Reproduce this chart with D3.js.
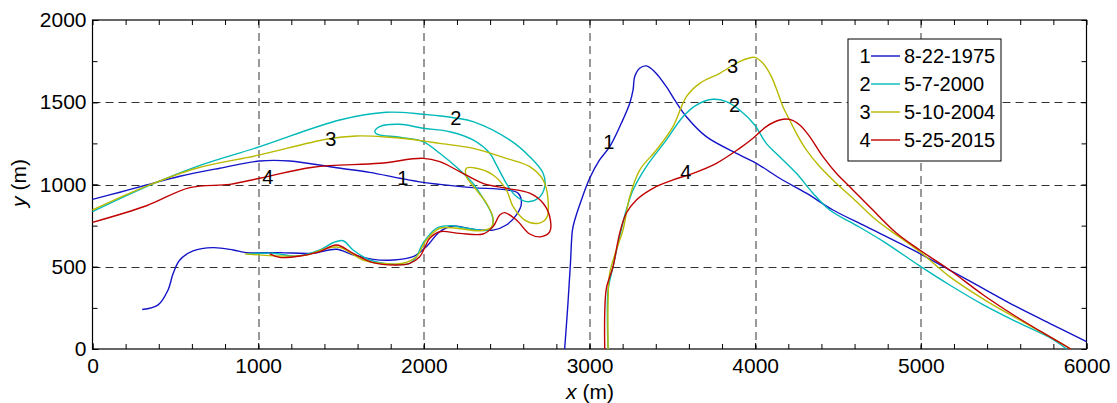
<!DOCTYPE html>
<html>
<head>
<meta charset="utf-8">
<script src="https://cdn.jsdelivr.net/npm/d3@7"></script>
<style>
  body { margin: 0; background: #fff; }
  svg { font-family: "Liberation Sans", Arial, sans-serif; }
  .tick text { font-size: 21px; fill: #000; }
  .grid line { stroke: #333; stroke-dasharray: 8,5; }
</style>
</head>
<body>
<div id="chart"></div>
<script>
// ---- data (x, y in metres) ----
var xTicks = [0, 1000, 2000, 3000, 4000, 5000, 6000];
var yTicks = [0, 500, 1000, 1500, 2000];
var seriesNames = ['8-22-1975', '5-7-2000', '5-10-2004', '5-25-2015'];
var seriesColors = ['#1414c8', '#00b9b9', '#b9b900', '#c00000'];

// 1: 8-22-1975
var s1Left = [[300,240],[396,268],[456,359],[487,460],[527,541],[607,596],[728,616],[849,602],[929,586],
  [1130,586],[1331,582],[1473,606],[1573,572],[1694,545],[1814,541],[1935,561],[2015,622],[2096,713],
  [2176,748],[2297,728],[2418,723],[2498,754],[2559,815],[2589,886],[2569,947],[2498,967],[2297,981],
  [2096,1001],[1995,1013],[1855,1038],[1673,1074],[1473,1102],[1191,1143],[1010,1143],[768,1099],
  [527,1050],[326,997],[165,953],[0,910]];
var s1Right = [[2850,0],[2870,278],[2885,521],[2897,723],[2911,784],[2951,906],[3001,1038],[3061,1149],
  [3122,1230],[3192,1372],[3243,1494],[3263,1575],[3273,1656],[3303,1707],[3343,1721],[3393,1686],
  [3464,1595],[3514,1514],[3585,1412],[3705,1291],[3906,1180],[4007,1129],[4148,1038],[4309,947],
  [4470,845],[4671,744],[4952,602],[5174,480],[5375,369],[5577,257],[5777,156],[6000,45]];

// 2: 5-7-2000
var s2Left = [[930,578],[1090,582],[1231,565],[1372,602],[1452,646],[1512,658],[1573,602],[1673,541],
  [1814,515],[1915,521],[1955,561],[1995,643],[2076,734],[2156,750],[2257,734],[2398,724],[2418,764],
  [2408,825],[2357,916],[2297,1007],[2217,1088],[2096,1190],[1995,1261],[1855,1287],[1720,1305],
  [1704,1321],[1734,1352],[1855,1366],[1995,1342],[2156,1321],[2297,1271],[2398,1190],[2438,1119],
  [2498,1007],[2549,936],[2619,896],[2690,916],[2730,987],[2720,1068],[2639,1169],[2518,1271],
  [2297,1382],[2197,1403],[1995,1427],[1774,1439],[1492,1392],[1010,1230],[628,1109],[326,987],[0,835]];
var s2Right = [[3112,0],[3108,196],[3112,359],[3142,500],[3182,683],[3222,845],[3263,967],[3343,1109],
  [3464,1271],[3564,1412],[3645,1483],[3745,1518],[3826,1504],[3906,1453],[3997,1362],[4067,1250],
  [4148,1169],[4249,1068],[4349,947],[4450,845],[4631,740],[4780,650],[4993,505],[5174,389],
  [5375,270],[5577,166],[5777,70],[5880,0]];

// 3: 5-10-2004
var s3Left = [[919,578],[1130,565],[1291,571],[1412,612],[1492,618],[1633,541],[1734,521],[1875,521],
  [1955,561],[2015,663],[2096,734],[2197,734],[2337,719],[2408,740],[2418,795],[2378,886],[2317,967],
  [2257,1048],[2257,1099],[2317,1099],[2418,1058],[2498,967],[2539,865],[2609,784],[2690,764],
  [2740,795],[2750,906],[2720,1028],[2639,1109],[2498,1159],[2297,1220],[2096,1250],[1995,1265],
  [1794,1287],[1593,1295],[1412,1275],[1010,1180],[628,1099],[326,990],[0,845]];
var s3Right = [[3112,0],[3112,278],[3122,460],[3162,602],[3202,723],[3243,926],[3303,1088],[3404,1210],
  [3504,1352],[3585,1534],[3665,1615],[3786,1676],[3906,1747],[3998,1773],[4047,1737],[4098,1656],
  [4138,1554],[4168,1473],[4208,1392],[4249,1311],[4309,1210],[4389,1109],[4490,1007],[4590,916],
  [4731,784],[4812,723],[4993,592],[5174,440],[5375,305],[5577,187],[5777,75],[5905,0]];

// 4: 5-25-2015
var s4Left = [[1070,578],[1130,557],[1251,565],[1372,592],[1473,632],[1573,582],[1694,525],[1835,511],
  [1915,521],[1975,561],[2036,673],[2096,713],[2217,703],[2357,699],[2418,744],[2458,815],[2488,829],
  [2559,784],[2639,699],[2710,683],[2760,713],[2760,804],[2720,886],[2639,947],[2498,977],[2357,1007],
  [2217,1078],[2096,1139],[1995,1159],[1734,1129],[1331,1105],[1010,1038],[829,1001],[587,981],
  [326,871],[0,770]];
var s4Right = [[3092,0],[3092,217],[3102,369],[3142,500],[3182,703],[3222,825],[3283,906],[3383,977],
  [3504,1028],[3625,1068],[3766,1129],[3906,1220],[3987,1281],[4067,1352],[4148,1392],[4208,1396],
  [4269,1362],[4329,1291],[4409,1169],[4490,1068],[4590,967],[4700,855],[4852,705],[4993,602],
  [5174,480],[5375,330],[5577,196],[5777,75],[5905,0]];

var seriesData = [[s1Left, s1Right], [s2Left, s2Right], [s3Left, s3Right], [s4Left, s4Right]];

// curve number labels [series index, x, y]
var curveLabels = [[0,1873,1040],[0,3117,1258],[1,2193,1404],[1,3876,1483],
  [2,1438,1277],[2,3864,1721],[3,1058,1046],[3,3581,1076]];

// ---- drawing ----
var W = 1117, H = 403;
var margin = {left: 92.5, right: 30.5, top: 20, bottom: 54};
var innerW = W - margin.left - margin.right, innerH = H - margin.top - margin.bottom;

var svg = d3.select('#chart').append('svg').attr('width', W).attr('height', H);
var g = svg.append('g').attr('transform', 'translate(' + margin.left + ',' + margin.top + ')');

var x = d3.scaleLinear().domain([0, 6000]).range([0, innerW]);
var y = d3.scaleLinear().domain([0, 2000]).range([innerH, 0]);

// grid
g.append('g').attr('class', 'grid')
  .selectAll('line').data(xTicks.slice(1, -1)).enter().append('line')
  .attr('x1', d => Math.round(x(d)) + 0.5).attr('x2', d => Math.round(x(d)) + 0.5)
  .attr('y1', 0).attr('y2', innerH);
g.append('g').attr('class', 'grid')
  .selectAll('line').data(yTicks.slice(1, -1)).enter().append('line')
  .attr('y1', d => Math.round(y(d)) + 0.5).attr('y2', d => Math.round(y(d)) + 0.5)
  .attr('x1', 0).attr('x2', innerW);

// minor ticks
var xMinor = d3.range(0, 6001, 200), yMinor = d3.range(0, 2001, 250);
g.append('g').attr('transform', 'translate(0,' + innerH + ')')
  .call(d3.axisBottom(x).tickValues(xMinor).tickSizeInner(-5).tickSizeOuter(0).tickFormat(''));
g.append('g')
  .call(d3.axisTop(x).tickValues(xMinor).tickSizeInner(-5).tickSizeOuter(0).tickFormat(''));
g.append('g')
  .call(d3.axisLeft(y).tickValues(yMinor).tickSizeInner(-5).tickSizeOuter(0).tickFormat(''));
g.append('g').attr('transform', 'translate(' + innerW + ',0)')
  .call(d3.axisRight(y).tickValues(yMinor).tickSizeInner(-5).tickSizeOuter(0).tickFormat(''));

// labelled axes
var xAxis = g.append('g').attr('transform', 'translate(0,' + innerH + ')')
  .call(d3.axisBottom(x).tickValues(xTicks).tickFormat(d3.format('d'))
    .tickSizeInner(-6).tickSizeOuter(0).tickPadding(4));
xAxis.selectAll('.tick text').attr('dy', '0.95em');
var yAxis = g.append('g')
  .call(d3.axisLeft(y).tickValues(yTicks).tickFormat(d3.format('d'))
    .tickSizeInner(-6).tickSizeOuter(0).tickPadding(6));
svg.selectAll('.domain').remove();
svg.selectAll('.tick line').attr('stroke', '#000');

// frame
g.append('rect').attr('width', innerW).attr('height', innerH)
  .attr('fill', 'none').attr('stroke', '#000').attr('stroke-width', 1.2);

// curves
var line = d3.line().x(d => x(d[0])).y(d => y(d[1])).curve(d3.curveCatmullRom.alpha(0.5));
seriesData.forEach(function(parts, i) {
  parts.forEach(function(pts) {
    g.append('path').attr('d', line(pts)).attr('fill', 'none')
      .attr('stroke', seriesColors[i]).attr('stroke-width', 1.4);
  });
});

// curve numbers
g.selectAll('.clab').data(curveLabels).enter().append('text')
  .attr('x', d => x(d[1])).attr('y', d => y(d[2]))
  .attr('text-anchor', 'middle').attr('dy', '0.35em')
  .style('font-size', '20px').text(d => d[0] + 1);

// axis titles
svg.append('text').attr('x', 590).attr('y', 399).attr('text-anchor', 'middle')
  .style('font-size', '21px')
  .html('<tspan font-style="italic">x</tspan> (m)');
svg.append('text').attr('transform', 'translate(26,183) rotate(-90)').attr('text-anchor', 'middle')
  .style('font-size', '21px')
  .html('<tspan font-style="italic">y</tspan> (m)');

// legend
var lg = svg.append('g').attr('transform', 'translate(848,39)');
lg.append('rect').attr('width', 153).attr('height', 122)
  .attr('fill', '#fff').attr('stroke', '#000').attr('stroke-width', 1);
seriesNames.forEach(function(name, i) {
  var yy = 17 + i * 28;
  lg.append('text').attr('x', 17).attr('y', yy).attr('dy', '0.35em')
    .attr('text-anchor', 'middle').style('font-size', '20px').text(i + 1);
  lg.append('line').attr('x1', 23).attr('x2', 52).attr('y1', yy).attr('y2', yy)
    .attr('stroke', seriesColors[i]).attr('stroke-width', 1.4);
  lg.append('text').attr('x', 56).attr('y', yy).attr('dy', '0.35em')
    .style('font-size', '20px').text(name);
});
</script>
</body>
</html>
